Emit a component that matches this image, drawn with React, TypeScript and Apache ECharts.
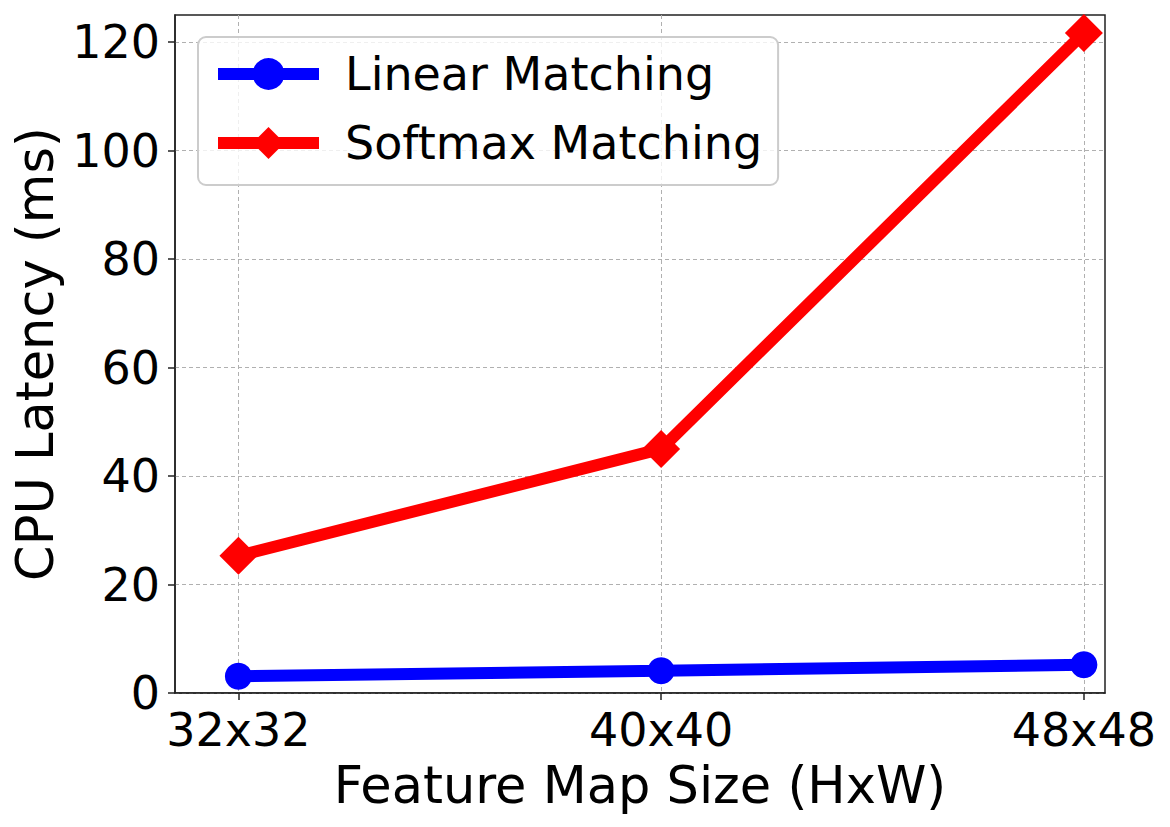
import React, { useEffect, useRef } from "react";
import * as echarts from "echarts";

const categories = ["32x32", "40x40", "48x48"];
const linearValues = [3.1, 4.1, 5.2];
const softmaxValues = [25.3, 45.0, 121.7];
const yTicks = [0, 20, 40, 60, 80, 100, 120];

const FONT = "DejaVu Sans";

export default function App() {
  const ref = useRef<HTMLDivElement>(null);
  useEffect(() => {
    document.body.style.margin = "0";
    const chart = echarts.init(ref.current!, undefined, { renderer: "svg" });
    const toPairs = (vals: number[]) => vals.map((v, i) => [i, v]);
    chart.setOption({
      animation: false,
      backgroundColor: "#ffffff",
      textStyle: { fontFamily: FONT },
      grid: {
        left: 175,
        right: 65,
        top: 15,
        bottom: 134,
        outerBoundsMode: "none",
        containLabel: false,
        show: true,
        borderColor: "#222",
        borderWidth: 1.5,
        backgroundColor: "transparent",
      },
      legend: {
        orient: "vertical",
        left: 198,
        top: 37,
        itemWidth: 101,
        itemHeight: 40,
        itemGap: 23,
        padding: [14, 16, 19, 14],
        backgroundColor: "rgba(255,255,255,0.8)",
        borderColor: "#cccccc",
        borderWidth: 2,
        borderRadius: 8,
        lineStyle: { width: 12 },
        textStyle: { fontFamily: FONT, fontSize: 46, color: "#000", padding: [0, 0, 0, 21] },
        data: ["Linear Matching", "Softmax Matching"],
      },
      xAxis: {
        type: "value",
        min: -0.15,
        max: 2.05,
        axisLine: { show: true, onZero: false, lineStyle: { color: "#222", width: 1.5 } },
        axisTick: { show: true, customValues: [0, 1, 2], length: 7, lineStyle: { color: "#222", width: 1.5 } },
        axisLabel: {
          customValues: [0, 1, 2],
          formatter: (v: number) => categories[Math.round(v)] ?? "",
          fontFamily: FONT,
          fontSize: 46,
          color: "#000",
          margin: 14,
        },
        splitLine: { show: true, lineStyle: { color: "#b0b0b0", type: [4, 3], width: 1 } },
        name: "Feature Map Size (HxW)",
        nameLocation: "middle",
        nameGap: 67,
        nameTextStyle: { fontFamily: FONT, fontSize: 51, color: "#000" },
      },
      yAxis: {
        type: "value",
        min: 0,
        max: 125,
        interval: 20,
        axisLine: { show: true, onZero: false, lineStyle: { color: "#222", width: 1.5 } },
        axisTick: { show: true, customValues: yTicks, length: 7, lineStyle: { color: "#222", width: 1.5 } },
        axisLabel: {
          customValues: yTicks,
          fontFamily: FONT,
          fontSize: 46,
          color: "#000",
          margin: 15,
        },
        splitLine: { show: true, lineStyle: { color: "#b0b0b0", type: [4, 3], width: 1 } },
        name: "CPU Latency (ms)",
        nameLocation: "middle",
        nameGap: 113,
        nameTextStyle: { fontFamily: FONT, fontSize: 51, color: "#000" },
      },
      series: [
        {
          name: "Linear Matching",
          type: "line",
          data: toPairs(linearValues),
          symbol: "circle",
          symbolSize: 27,
          lineStyle: { color: "#0000ff", width: 12 },
          itemStyle: { color: "#0000ff" },
          z: 3,
        },
        {
          name: "Softmax Matching",
          type: "line",
          data: toPairs(softmaxValues),
          symbol: "diamond",
          symbolSize: 38,
          lineStyle: { color: "#ff0000", width: 12 },
          itemStyle: { color: "#ff0000" },
          z: 3,
        },
      ],
    });
    return () => chart.dispose();
  }, []);
  return <div ref={ref} style={{ width: 1170, height: 827 }} />;
}
